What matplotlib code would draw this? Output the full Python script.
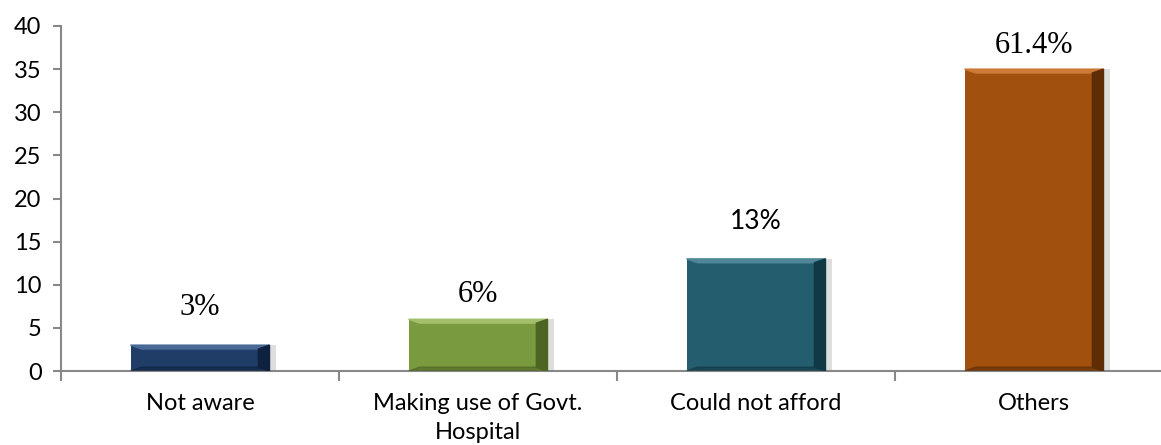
import numpy as np
import matplotlib.pyplot as plt
from matplotlib.patches import Polygon

categories = ["Not aware", "Making use of Govt.\nHospital", "Could not afford", "Others"]
values = [3, 6, 13, 35]
labels = ["3%", "6%", "13%", "61.4%"]

# label styling (the original mixes serif and sans labels)
label_serif = [True, True, False, True]
label_offset = [27, 18, 27, 17]  # points above the bar top
colors = ["#1f3d66", "#7a9a3f", "#245d6e", "#a1500e"]
light = ["#4a6a96", "#a3bf6c", "#4f8798", "#cc7a36"]
dark = ["#0e2240", "#4d6522", "#113845", "#5e2c05"]

fig = plt.figure(figsize=(11.61, 4.45), dpi=100)
# axis runs past the right edge of the image, as in the original
ax = fig.add_axes([61 / 1161, (445 - 371) / 445, (1173 - 61) / 1161, (371 - 26) / 445])

x = np.arange(len(values))
w = 0.5
ax.bar(x + 0.022, values, width=w, color="#c8c8c8", alpha=0.6, zorder=1)
bars = ax.bar(x, values, width=w, color=colors, zorder=2)

# bevel edges
bx = 0.04
by = 0.45
for i, b in enumerate(bars):
    x0 = b.get_x()
    x1 = x0 + b.get_width()
    h = b.get_height()
    ax.add_patch(Polygon([(x0, h), (x1, h), (x1 - bx, h - by), (x0 + bx, h - by)],
                         color=light[i], zorder=3))
    ax.add_patch(Polygon([(x1, h), (x1, 0), (x1 - bx, by), (x1 - bx, h - by)],
                         color=dark[i], zorder=3))
    ax.add_patch(Polygon([(x0, 0), (x1, 0), (x1 - bx, by), (x0 + bx, by)],
                         color=dark[i], alpha=0.6, zorder=3))
    if label_serif[i]:
        ax.annotate(labels[i], (x[i], h), xytext=(0, label_offset[i]), textcoords="offset points",
                    ha="center", va="center", fontsize=22, family="Liberation Serif")
    else:
        ax.annotate(labels[i], (x[i], h), xytext=(0, label_offset[i]), textcoords="offset points",
                    ha="center", va="center", fontsize=19, family="Lato")

ax.set_xlim(-0.5, 3.5)
ax.set_ylim(0, 40)
ax.set_yticks(range(0, 41, 5))
ax.set_xticks(x)
ax.set_xticklabels(categories, fontsize=17, family="Lato", linespacing=1.45)
ax.set_xticks(np.arange(-0.5, 4, 1), minor=True)
ax.tick_params(axis="x", which="major", length=0, pad=16)
ax.tick_params(axis="x", which="minor", length=7, color="#888888", width=1.5, direction="out")
ax.tick_params(axis="y", length=6, color="#888888", width=1.5, labelsize=17, pad=8)
for t in ax.get_yticklabels():
    t.set_family("Lato")

for s in ["top", "right"]:
    ax.spines[s].set_visible(False)
for s in ["left", "bottom"]:
    ax.spines[s].set_color("#888888")
    ax.spines[s].set_linewidth(1.5)

fig.savefig("out.png", dpi=100)
